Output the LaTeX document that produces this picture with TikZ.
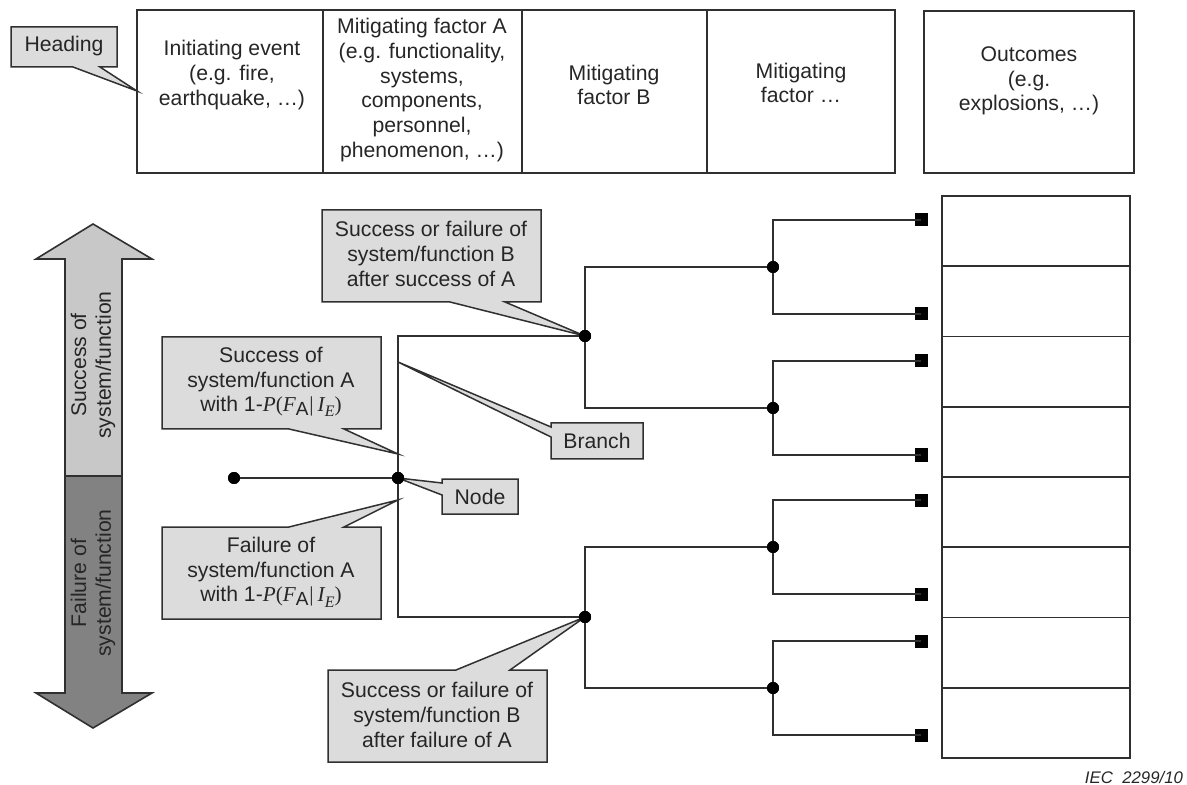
\documentclass[tikz,border=0pt]{standalone}
\usepackage{fontspec}
\setmainfont{Liberation Sans}
\newfontfamily\serfam{Liberation Serif}
\definecolor{linec}{HTML}{303030}
\definecolor{textc}{HTML}{262626}
\definecolor{callfill}{HTML}{DCDCDC}
\definecolor{upfill}{HTML}{C8C8C8}
\definecolor{downfill}{HTML}{828282}
\newcommand\probtxt{with 1-{\serfam\itshape P}{\serfam(}{\serfam\itshape F}\raisebox{-0.35ex}{\fontsize{9.5}{10}\selectfont A}\kern0.5pt{\serfam|}\kern2pt{\serfam\itshape I}\raisebox{-0.45ex}{\serfam\itshape\fontsize{8}{8}\selectfont E}{\serfam)}}
\begin{document}
\begin{tikzpicture}[x=0.5pt,y=-0.5pt,
  ln/.style={draw=linec, line width=0.8pt},
  dotnode/.style={circle, fill=black, inner sep=0pt, minimum size=6pt},
  sqnode/.style={rectangle, fill=black, inner sep=0pt, minimum size=6.5pt},
  callout/.style={draw=linec, fill=callfill, line width=0.75pt, line join=miter},
  txt/.style={align=center, font=\fontsize{10.6}{12.4}\selectfont, text=textc, inner sep=0pt},
  ptnode/.style={coordinate}]
\useasboundingbox (0,0) rectangle (1187,785);

% ---------- header row ----------
\draw[ln] (137,10) rectangle (895,173);
\draw[ln] (323,10) -- (323,173);
\draw[ln] (522,10) -- (522,173);
\draw[ln] (707,10) -- (707,173);
\draw[ln] (924,11) rectangle (1134,173);
\node[txt] (init) at (232,75) {Initiating event\\(e.g. fire,\\earthquake, …)};
\node[txt] (mitA) at (422,90) {Mitigating factor A\\(e.g. functionality,\\systems,\\components,\\personnel,\\phenomenon, …)};
\node[txt] (mitB) at (614,85) {Mitigating\\factor B};
\node[txt] (mitX) at (801,83) {Mitigating\\factor …};
\node[txt] (outc) at (1029,81) {Outcomes\\(e.g.\\explosions, …)};

% Heading callout
\draw[callout] (11,27) -- (117,27) -- (117,67) -- (100,67) -- (137,91) -- (73,67) -- (11,67) -- cycle;
\node[txt] (hdg) at (64,46) {Heading};

% ---------- vertical arrow ----------
\draw[ln, fill=upfill] (65,476) -- (65,259) -- (36,259) -- (93,224) -- (152,259) -- (122,259) -- (122,476) -- cycle;
\draw[ln, fill=downfill] (65,476) -- (65,693) -- (36,693) -- (93,728) -- (152,693) -- (122,693) -- (122,476) -- cycle;
\node[txt, rotate=90] (succ) at (93,365) {Success of\\system/function};
\node[txt, rotate=90] (fail) at (93,583) {Failure of\\system/function};

% ---------- outcome column ----------
\draw[ln] (942,196) rectangle (1130,758);
\foreach \k in {1,...,7} {\draw[ln] (942,{196+70.25*\k}) -- (1130,{196+70.25*\k});}

% ---------- tree ----------
\node[dotnode] (S) at (234,478) {};
\node[dotnode] (A) at (398,478) {};
\node[dotnode] (B1) at (585,336) {};
\node[dotnode] (B2) at (585,617) {};
\node[dotnode] (C1) at (773,267) {};
\node[dotnode] (C2) at (773,408) {};
\node[dotnode] (C3) at (773,547) {};
\node[dotnode] (C4) at (773,688) {};
\node[sqnode] (L1) at (921,220) {};
\node[sqnode] (L2) at (921,314) {};
\node[sqnode] (L3) at (921,361) {};
\node[sqnode] (L4) at (921,455) {};
\node[sqnode] (L5) at (921,500) {};
\node[sqnode] (L6) at (921,594) {};
\node[sqnode] (L7) at (921,641) {};
\node[sqnode] (L8) at (921,735) {};

\draw[ln] (S.center) -- (A.center);
\draw[ln] (A.center) |- (B1.center);
\draw[ln] (A.center) |- (B2.center);
\draw[ln] (B1.center) |- (C1.center);
\draw[ln] (B1.center) |- (C2.center);
\draw[ln] (B2.center) |- (C3.center);
\draw[ln] (B2.center) |- (C4.center);
\draw[ln] (C1.center) |- (L1.center);
\draw[ln] (C1.center) |- (L2.center);
\draw[ln] (C2.center) |- (L3.center);
\draw[ln] (C2.center) |- (L4.center);
\draw[ln] (C3.center) |- (L5.center);
\draw[ln] (C3.center) |- (L6.center);
\draw[ln] (C4.center) |- (L7.center);
\draw[ln] (C4.center) |- (L8.center);
% redraw dots on top
\foreach \n in {S,A,B1,B2,C1,C2,C3,C4} {\fill (\n) circle[radius=6];}

% ---------- callouts ----------
\coordinate (tAS) at (398,454);
\coordinate (tAF) at (398,500);
\coordinate (tBr) at (398,362);

% B success
\draw[callout] (322,210) -- (541,210) -- (541,302) -- (505,302) -- (B1.center) -- (450,302) -- (322,302) -- cycle;
\node[txt] (cBS) at (431,254) {Success or failure of\\system/function B\\after success of A};

% A success
\draw[callout] (162,337) -- (381,337) -- (381,429) -- (344,429) -- (tAS) -- (289,429) -- (162,429) -- cycle;
\node[txt] (cAS) at (271,382) {Success of\\system/function A\\\probtxt};

% Branch
\draw[callout] (551,423) -- (643,423) -- (643,459) -- (551,459) -- (551,437) -- (tBr) -- (551,427) -- cycle;
\node[txt] (cBr) at (597,441) {Branch};

% Node
\draw[callout] (442,479) -- (518,479) -- (518,514) -- (442,514) -- (442,495) -- (A.center) -- (442,483) -- cycle;
\node[txt] (cNd) at (480,497) {Node};

% A failure
\draw[callout] (162,527) -- (289,527) -- (tAF) -- (344,527) -- (381,527) -- (381,619) -- (162,619) -- cycle;
\node[txt] (cAF) at (271,572) {Failure of\\system/function A\\\probtxt};

% B failure
\draw[callout] (328,670) -- (456,670) -- (B2.center) -- (510,670) -- (547,670) -- (547,762) -- (328,762) -- cycle;
\node[txt] (cBF) at (437,715) {Success or failure of\\system/function B\\after failure of A};

\fill (A) circle[radius=6];
\fill (B1) circle[radius=6];
\fill (B2) circle[radius=6];

\node[font=\itshape\fontsize{8.4}{10}\selectfont, text=textc, inner sep=0pt] (iec) at (1134,777) {IEC\ \ 2299/10};
\end{tikzpicture}
\end{document}
